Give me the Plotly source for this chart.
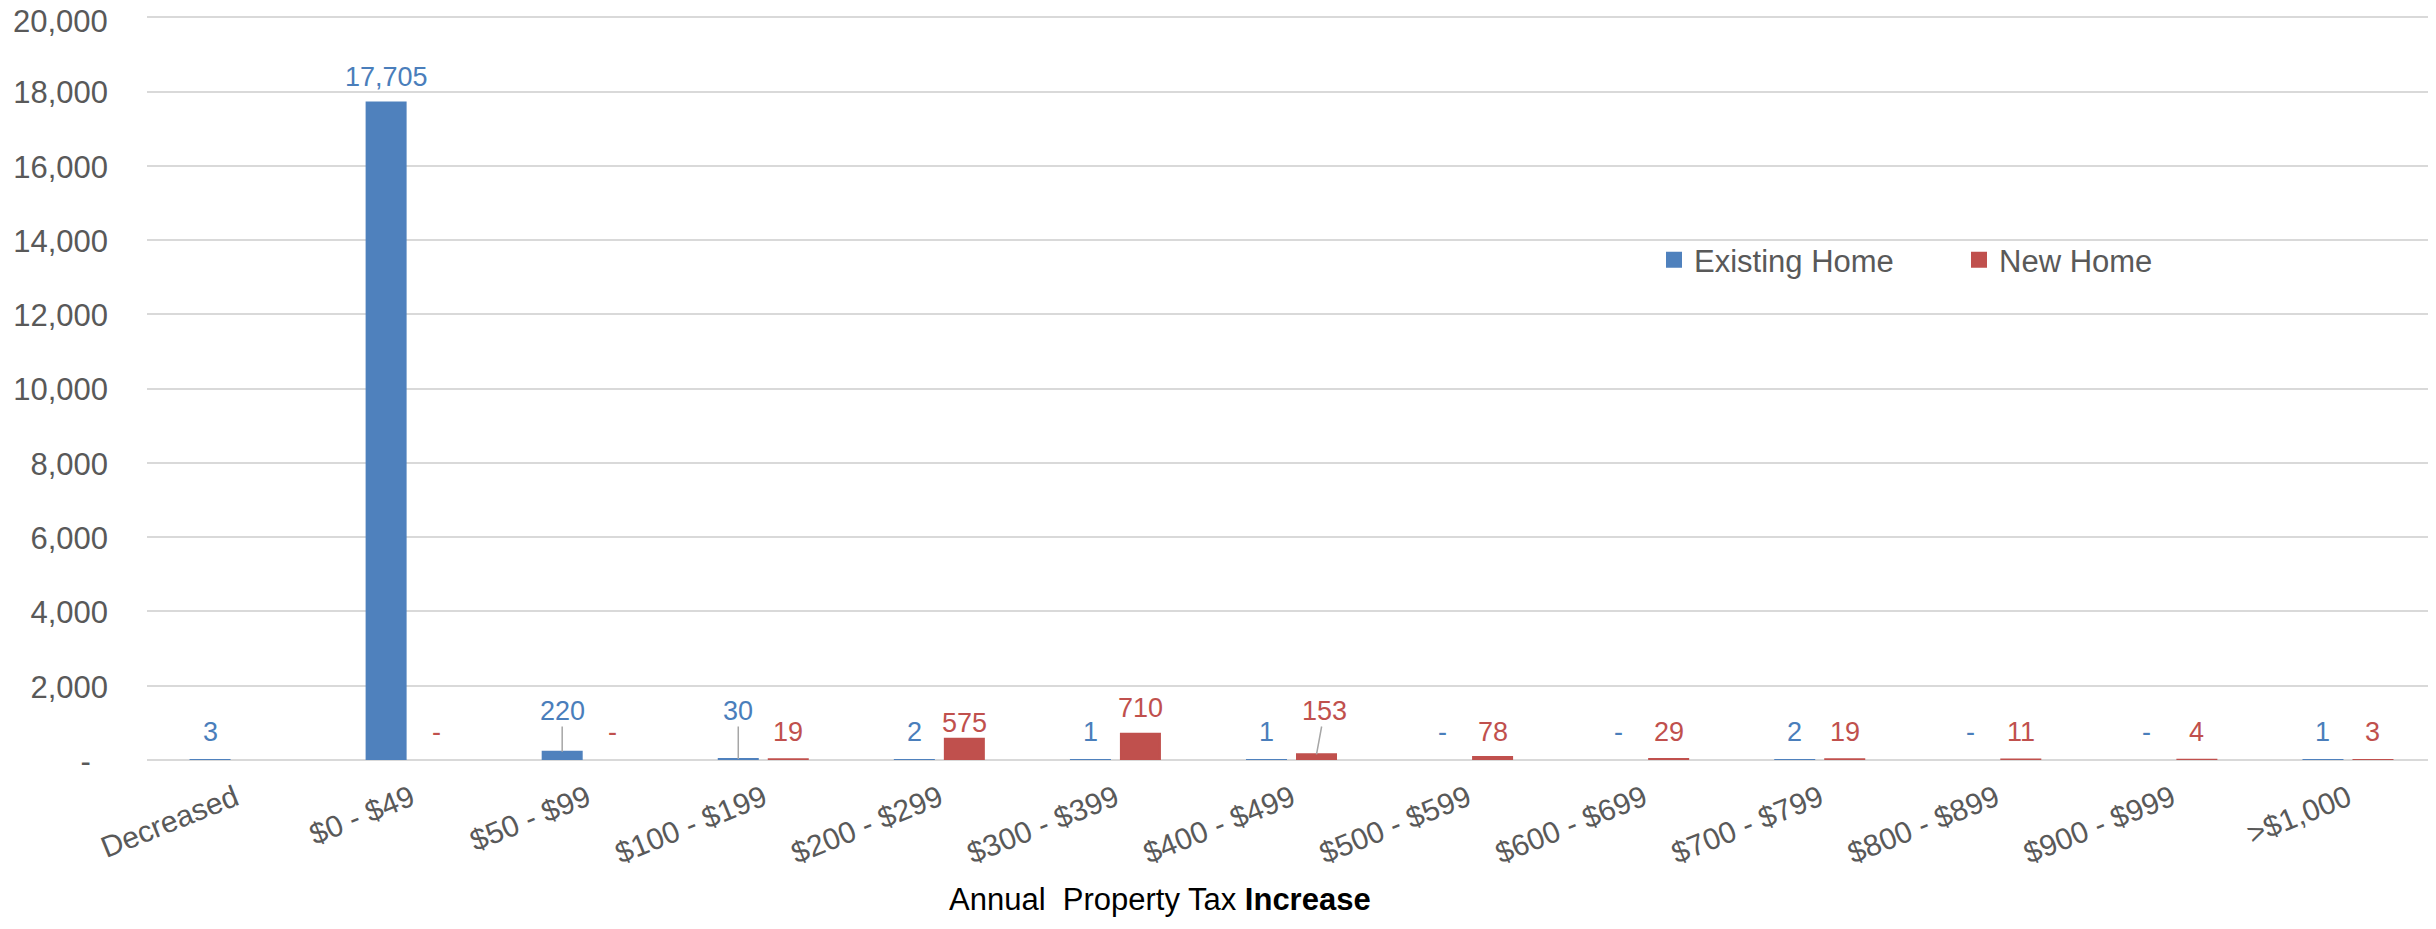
import plotly.graph_objects as go

# ---------------- data ----------------
categories = ["Decreased", "$0 - $49", "$50 - $99", "$100 - $199", "$200 - $299",
              "$300 - $399", "$400 - $499", "$500 - $599", "$600 - $699",
              "$700 - $799", "$800 - $899", "$900 - $999", ">$1,000"]
existing_home = [3, 17705, 220, 30, 2, 1, 1, 0, 0, 2, 0, 0, 1]
new_home = [None, 0, 0, 19, 575, 710, 153, 78, 29, 19, 11, 4, 3]
y_tick_values = [0, 2000, 4000, 6000, 8000, 10000, 12000, 14000, 16000, 18000, 20000]
y_tick_labels = ["-\u2007", "2,000", "4,000", "6,000", "8,000", "10,000", "12,000",
                 "14,000", "16,000", "18,000", "20,000"]
series_names = ["Existing Home", "New Home"]

# ---------------- style / layout ----------------
PAGE_PAD = 8                      # default body margin of the html page
W, H = 2436 - PAGE_PAD, 929 - PAGE_PAD
Y_MAX = 20060                     # a hair above 20,000 so the top gridline is drawn
ZERO_Y, TOP_GRID_Y = 760 - PAGE_PAD, 17 - PAGE_PAD
PX_PER_UNIT = (ZERO_Y - TOP_GRID_Y) / 20000
M_L, M_R, M_B = 147 - PAGE_PAD, 0, H - ZERO_Y
M_T = ZERO_Y - Y_MAX * PX_PER_UNIT
PLOT_W = W - M_L - M_R
PLOT_H = H - M_T - M_B
BARGAP, BARGROUPGAP = 0.432, 0.22
CAT_W = PLOT_W / len(categories)
OFFSET = CAT_W * (1 - BARGAP) / 4  # centre of each bar relative to category centre
TICK_STANDOFF = 38

COLORS = ["#4F81BD", "#C0504D"]
LABEL_COLORS = ["#4A7EBB", "#C0504D"]
FONT = "Liberation Sans, Arial, sans-serif"
GREY = "#595959"
GRID = "#D9D9D9"
TICK_FONT = dict(family=FONT, size=31, color=GREY)

# manually placed labels: (series index, category) -> (px above zero, x nudge, leader line)
LABEL_OVERRIDES = {
    (0, "$50 - $99"): (49, 0, True),
    (0, "$100 - $199"): (49, 0, True),
    (1, "$400 - $499"): (49, 8, True),
    (1, "$200 - $299"): (37, 0, False),
}


def fmt(v):
    if v is None:
        return None
    return "-" if v == 0 else f"{v:,}"


fig = go.Figure()
for i, (name, vals) in enumerate(zip(series_names, [existing_home, new_home])):
    line_w = [0 if (v is None or v == 0) else 2 for v in vals]
    fig.add_trace(go.Bar(
        name=name, x=categories, y=vals, showlegend=False,
        marker=dict(color=COLORS[i], line=dict(color=COLORS[i], width=line_w)),
        hoverinfo="x+y",
    ))
# legend entries with larger square swatches
for i, name in enumerate(series_names):
    fig.add_trace(go.Scatter(
        name=name, x=[None], y=[None], mode="markers", showlegend=True,
        marker=dict(symbol="square", size=16, color=COLORS[i]),
        hoverinfo="skip",
    ))

annotations = []
for i, vals in enumerate([existing_home, new_home]):
    xs = -OFFSET if i == 0 else OFFSET
    for cat, v in zip(categories, vals):
        txt = fmt(v)
        if txt is None:
            continue
        top_px = v * PX_PER_UNIT
        ov = LABEL_OVERRIDES.get((i, cat))
        font = dict(family=FONT, size=27, color=LABEL_COLORS[i])
        if ov and ov[2]:
            lift, dx, _ = ov
            annotations.append(dict(
                x=cat, y=v, xref="x", yref="y", xshift=xs, text=txt,
                showarrow=True, arrowhead=0, arrowwidth=1.5, arrowcolor="#A6A6A6",
                ax=dx, ay=-(lift - top_px), standoff=0, startstandoff=0,
                font=font, borderpad=0,
            ))
        else:
            lift = ov[0] if ov else max(28, top_px + 25.5)
            annotations.append(dict(
                x=cat, y=0, xref="x", yref="y", xshift=xs, yshift=lift,
                text=txt, showarrow=False, yanchor="middle", xanchor="center",
                font=font, borderpad=0,
            ))

# the top tick label sits at the very edge of the page, so it is drawn a few px lower
tick_text = y_tick_labels[:-1] + [""]
annotations.append(dict(
    x=0, xref="paper", y=y_tick_values[-1], yref="y",
    xanchor="right", yanchor="middle", xshift=-TICK_STANDOFF, yshift=-4,
    text=y_tick_labels[-1], showarrow=False, font=TICK_FONT, borderpad=0,
))

annotations.append(dict(
    x=(1160 - PAGE_PAD - M_L) / PLOT_W, y=(ZERO_Y - (900 - PAGE_PAD)) / PLOT_H,
    xref="paper", yref="paper", showarrow=False, xanchor="center", yanchor="middle",
    text="Annual\u00a0 Property Tax <b>Increase</b>",
    font=dict(family=FONT, size=31, color="#000000"),
))

fig.update_layout(
    width=W, height=H,
    margin=dict(l=M_L, r=M_R, t=M_T, b=M_B, pad=0, autoexpand=False),
    paper_bgcolor="white", plot_bgcolor="white",
    barmode="group", bargap=BARGAP, bargroupgap=BARGROUPGAP,
    font=dict(family=FONT, size=31, color=GREY),
    showlegend=True,
    legend=dict(
        orientation="h", x=(1654 - PAGE_PAD - M_L) / PLOT_W,
        y=(ZERO_Y - (260 - PAGE_PAD)) / PLOT_H,
        xanchor="left", yanchor="middle",
        font=dict(family=FONT, size=31, color=GREY),
        bgcolor="rgba(0,0,0,0)", entrywidth=260, traceorder="normal",
        itemclick=False,
    ),
    annotations=annotations,
    xaxis=dict(
        type="category", tickangle=-22, showgrid=False, showline=False,
        zeroline=False, ticks="", tickfont=dict(family=FONT, size=30, color=GREY),
        ticklabelstandoff=14, automargin=False, ticklabeloverflow="allow",
    ),
    yaxis=dict(
        range=[0, Y_MAX], tickvals=y_tick_values, ticktext=tick_text,
        showgrid=True, gridcolor=GRID, gridwidth=2,
        zeroline=True, zerolinecolor=GRID, zerolinewidth=2,
        showline=False, ticks="", tickfont=TICK_FONT,
        ticklabelstandoff=TICK_STANDOFF, ticklabelshift=1,
        automargin=False, ticklabeloverflow="allow",
    ),
)

fig.write_html("out.html")
